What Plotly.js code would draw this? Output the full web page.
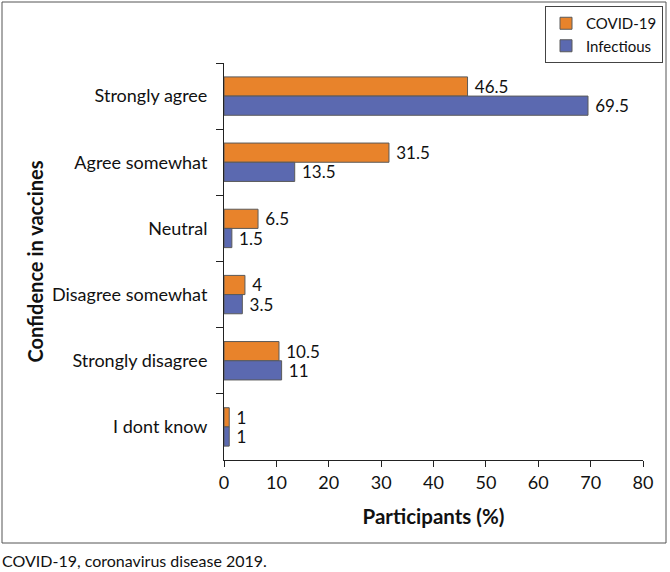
<!DOCTYPE html>
<html>
<head>
<meta charset="utf-8">
<script src="https://cdn.plot.ly/plotly-3.0.1.min.js"></script>
<style>
  html, body { margin: 0; padding: 0; background: #ffffff; }
  #chart { width: 670px; height: 572px; }
</style>
</head>
<body>
<div id="chart"></div>
<script>
// Response categories, listed top to bottom
const categories = [
  "Strongly agree",
  "Agree somewhat",
  "Neutral",
  "Disagree somewhat",
  "Strongly disagree",
  "I dont know"
];

// Share of participants (%) per series
const covidValues = [46.5, 31.5, 6.5, 4, 10.5, 1];
const infectiousValues = [69.5, 13.5, 1.5, 3.5, 11, 1];

const seriesNames = ["COVID-19", "Infectious"];
const xTicks = [0, 10, 20, 30, 40, 50, 60, 70, 80];

const FONT = "Lato, 'Open Sans', sans-serif";

// Plot area in pixels, used to place paper-referenced items
const PL = 224, PR = 643, PT = 63, PB = 460;
const px = x => (x - PL) / (PR - PL);
const py = y => (PB - y) / (PB - PT);

function barTrace(name, values, color) {
  return {
    type: "bar",
    orientation: "h",
    name: name,
    y: categories,
    x: values,
    text: values.map(v => "\u2005" + v),
    textposition: "outside",
    constraintext: "none",
    cliponaxis: false,
    textfont: { family: FONT, size: 17, color: "#111111" },
    marker: { color: color, line: { color: "#5a5a5a", width: 1 } },
    hoverinfo: "x+name"
  };
}

const traces = [
  barTrace(seriesNames[0], covidValues, "#e8832b"),
  barTrace(seriesNames[1], infectiousValues, "#5b69b0")
];

const layout = {
  width: 670,
  height: 572,
  margin: { l: PL, r: 670 - PR, t: PT, b: 572 - PB, autoexpand: false },
  paper_bgcolor: "#ffffff",
  plot_bgcolor: "#ffffff",
  font: { family: FONT, size: 18, color: "#111111" },
  barmode: "group",
  bargap: 0.42,
  bargroupgap: 0,
  showlegend: true,
  legend: {
    x: px(663), xanchor: "right",
    y: py(6), yanchor: "top",
    bordercolor: "#444444", borderwidth: 1,
    bgcolor: "#ffffff",
    font: { family: FONT, size: 15, color: "#111111" },
    itemwidth: 30,
    tracegroupgap: 0
  },
  xaxis: {
    range: [0, 80],
    tickvals: xTicks,
    showgrid: false,
    zeroline: false,
    showline: true,
    linecolor: "#222222",
    linewidth: 1,
    ticks: "outside",
    ticklen: 6,
    tickcolor: "#222222",
    tickfont: { family: FONT, size: 18, color: "#111111" },
    title: {
      text: "<b>Participants (%)</b>",
      font: { family: FONT, size: 20.5, color: "#111111" },
      standoff: 18
    },
    fixedrange: true
  },
  yaxis: {
    type: "category",
    autorange: "reversed",
    showgrid: false,
    zeroline: false,
    showline: true,
    linecolor: "#222222",
    linewidth: 1,
    ticks: "outside",
    tickson: "boundaries",
    ticklen: 7,
    tickcolor: "#222222",
    ticklabelstandoff: 12,
    tickfont: { family: FONT, size: 18, color: "#111111" },
    title: {
      text: "<b>Confidence in vaccines</b>",
      font: { family: FONT, size: 20, color: "#111111" },
      standoff: 2
    },
    fixedrange: true
  },
  shapes: [
    {
      type: "rect", xref: "paper", yref: "paper",
      x0: px(2), x1: px(666),
      y0: py(543), y1: py(2),
      line: { color: "#555555", width: 1 },
      fillcolor: "rgba(0,0,0,0)",
      layer: "below"
    }
  ],
  annotations: [
    {
      text: "COVID-19, coronavirus disease 2019.",
      xref: "paper", yref: "paper",
      x: px(0), xanchor: "left",
      y: py(560), yanchor: "middle",
      showarrow: false,
      font: { family: FONT, size: 16, color: "#111111" }
    }
  ]
};

Plotly.newPlot("chart", traces, layout, { displayModeBar: false, staticPlot: true });
</script>
</body>
</html>
